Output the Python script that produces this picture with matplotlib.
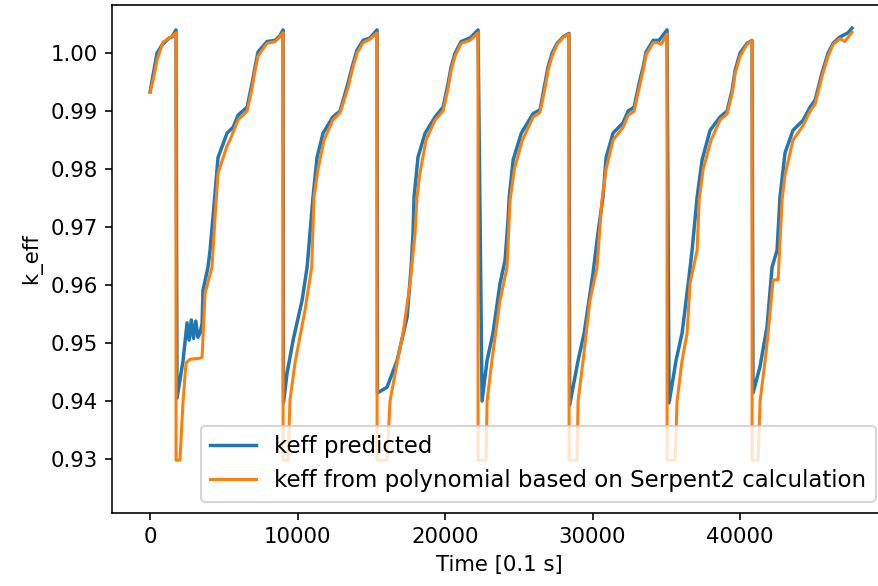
import numpy as np
import matplotlib.pyplot as plt

# keff predicted (blue)
pred_t = [0, 270, 475, 810, 1290, 1490, 1760,
          1830, 2240, 2510, 2650, 2800, 2950, 3100, 3250, 3390, 3530, 3590, 3930, 4070, 4410, 4610, 5220, 5630, 5970, 6580, 6920, 7120, 7320, 7930, 8480, 8810, 9017,
          9050, 9290, 9700, 10310, 10650, 11050, 11320, 11730, 12400, 12880, 13420, 13700, 14030, 14440, 14910, 15390,
          15420, 16070, 16750, 17430, 17700, 17830, 17900, 18170, 18650, 19330, 19870, 20210, 20410, 20680, 21090, 21700, 22237,
          22510, 22850, 23250, 23730, 24070, 24270, 24350, 24620, 25170, 25980, 26440, 26780, 26980, 27260, 27600, 28000, 28407,
          28450, 29020, 29430, 30030, 30370, 30710, 30920, 31390, 32070, 32410, 32820, 33160, 33430, 33630, 34110, 34510, 35051,
          35190, 35660, 36070, 36540, 36750, 37090, 37430, 37970, 38650, 39120, 39460, 39670, 40000, 40480, 40814,
          40880, 41350, 41830, 42170, 42510, 42710, 43050, 43590, 44270, 44750, 45090, 45560, 45970, 46310, 46780, 47320, 47593]
pred_k = [0.9933, 0.9971, 1.0000, 1.0014, 1.0026, 1.0028, 1.0040,
          0.9405, 0.9470, 0.9535, 0.9505, 0.9540, 0.9508, 0.9538, 0.9510, 0.9517, 0.9534, 0.9591, 0.9631, 0.9660, 0.9759, 0.9820, 0.9862, 0.9872, 0.9893, 0.9907, 0.9948, 0.9976, 1.0002, 1.0020, 1.0022, 1.0030, 1.0040,
          0.9397, 0.9448, 0.9505, 0.9574, 0.9631, 0.9752, 0.9820, 0.9862, 0.9890, 0.9900, 0.9948, 0.9976, 1.0005, 1.0022, 1.0026, 1.0040,
          0.9414, 0.9424, 0.9470, 0.9545, 0.9631, 0.9690, 0.9752, 0.9821, 0.9862, 0.9890, 0.9907, 0.9948, 0.9976, 1.0000, 1.0020, 1.0026, 1.0040,
          0.9400, 0.9470, 0.9517, 0.9603, 0.9643, 0.9712, 0.9752, 0.9816, 0.9862, 0.9896, 0.9902, 0.9948, 0.9976, 1.0000, 1.0017, 1.0028, 1.0034,
          0.9393, 0.9470, 0.9517, 0.9620, 0.9690, 0.9752, 0.9820, 0.9862, 0.9880, 0.9900, 0.9907, 0.9948, 0.9976, 1.0002, 1.0022, 1.0022, 1.0040,
          0.9397, 0.9470, 0.9517, 0.9614, 0.9660, 0.9752, 0.9816, 0.9867, 0.9890, 0.9900, 0.9936, 0.9971, 1.0000, 1.0017, 1.0022,
          0.9414, 0.9459, 0.9528, 0.9631, 0.9660, 0.9752, 0.9828, 0.9867, 0.9884, 0.9907, 0.9919, 0.9966, 1.0000, 1.0017, 1.0028, 1.0035, 1.0043]

# keff from polynomial (orange)
poly_t = [0, 270, 475, 880, 1560, 1760,
          1763, 2030, 2240, 2440, 2700, 3390, 3530, 3730, 4200, 4410, 4610, 5220, 5420, 5970, 6580, 6920, 7120, 7320, 7930, 8480, 8810, 9017,
          9020, 9360, 9490, 9830, 10510, 10960, 11120, 11390, 11800, 12400, 12880, 13420, 13700, 14030, 14440, 14910, 15390,
          15393, 16070, 16270, 16750, 17150, 17630, 17970, 18100, 18300, 18710, 19330, 19870, 20210, 20410, 20680, 21090, 21700, 22237,
          22240, 22780, 22850, 23180, 23730, 24200, 24410, 24700, 25240, 25980, 26440, 26780, 26980, 27260, 27600, 28000, 28407,
          28410, 28950, 29020, 29360, 29830, 30300, 30640, 30920, 31390, 32070, 32410, 32820, 33160, 33430, 33630, 34110, 34440, 34650, 35051,
          35054, 35600, 35730, 36070, 36410, 36610, 37090, 37230, 37500, 38040, 38650, 39120, 39460, 39670, 40000, 40480, 40814,
          40817, 41220, 41360, 41700, 41900, 42240, 42580, 42850, 43050, 43590, 44270, 44750, 45090, 45560, 45970, 46310, 46780, 47100, 47593]
poly_k = [0.9933, 0.9960, 0.9988, 1.0019, 1.0030, 1.0035,
          0.9298, 0.9298, 0.9400, 0.9466, 0.9472, 0.9474, 0.9476, 0.9586, 0.9631, 0.9717, 0.9793, 0.9840, 0.9850, 0.9885, 0.9900, 0.9940, 0.9970, 0.9995, 1.0017, 1.0020, 1.0028, 1.0035,
          0.9298, 0.9298, 0.9402, 0.9466, 0.9557, 0.9631, 0.9752, 0.9800, 0.9850, 0.9885, 0.9897, 0.9940, 0.9970, 1.0000, 1.0018, 1.0024, 1.0035,
          0.9298, 0.9298, 0.9400, 0.9466, 0.9517, 0.9603, 0.9690, 0.9752, 0.9793, 0.9850, 0.9885, 0.9900, 0.9940, 0.9970, 0.9995, 1.0017, 1.0022, 1.0035,
          0.9298, 0.9298, 0.9400, 0.9470, 0.9574, 0.9630, 0.9747, 0.9800, 0.9850, 0.9890, 0.9898, 0.9940, 0.9970, 0.9995, 1.0015, 1.0027, 1.0033,
          0.9298, 0.9298, 0.9400, 0.9470, 0.9574, 0.9630, 0.9747, 0.9800, 0.9850, 0.9872, 0.9893, 0.9900, 0.9940, 0.9970, 0.9997, 1.0018, 1.0018, 1.0015, 1.0033,
          0.9298, 0.9298, 0.9400, 0.9470, 0.9517, 0.9603, 0.9660, 0.9747, 0.9800, 0.9850, 0.9885, 0.9895, 0.9930, 0.9965, 0.9995, 1.0015, 1.0022,
          0.9298, 0.9298, 0.9400, 0.9470, 0.9517, 0.9609, 0.9609, 0.9747, 0.9790, 0.9850, 0.9875, 0.9900, 0.9912, 0.9960, 0.9995, 1.0015, 1.0025, 1.0020, 1.0036]

DPI = 146
fig = plt.figure(figsize=(878 / DPI, 586 / DPI), dpi=DPI)
# right spine sits just outside the saved image, like the reference
ax = fig.add_axes([0.1276, 0.1246, 0.8827, 0.8669])

ax.plot(pred_t, pred_k, color='#1f77b4', lw=1.7, label='keff predicted')
ax.plot(poly_t, poly_k, color='#ff7f0e', lw=1.5, label='keff from polynomial based on Serpent2 calculation')

ax.set_xlim(-2576, 49966)
ax.set_ylim(0.9207, 1.0083)
ax.set_yticks(np.arange(0.93, 1.0001, 0.01))
ax.set_xticks([0, 10000, 20000, 30000, 40000])
ax.tick_params(labelsize=10.5)
ax.set_xlabel('Time [0.1 s]', fontsize=10.5)
ax.set_ylabel('k_eff', fontsize=10.5)
ax.legend(loc='lower right', fontsize=11.3)

fig.savefig('out.png', dpi=DPI)
